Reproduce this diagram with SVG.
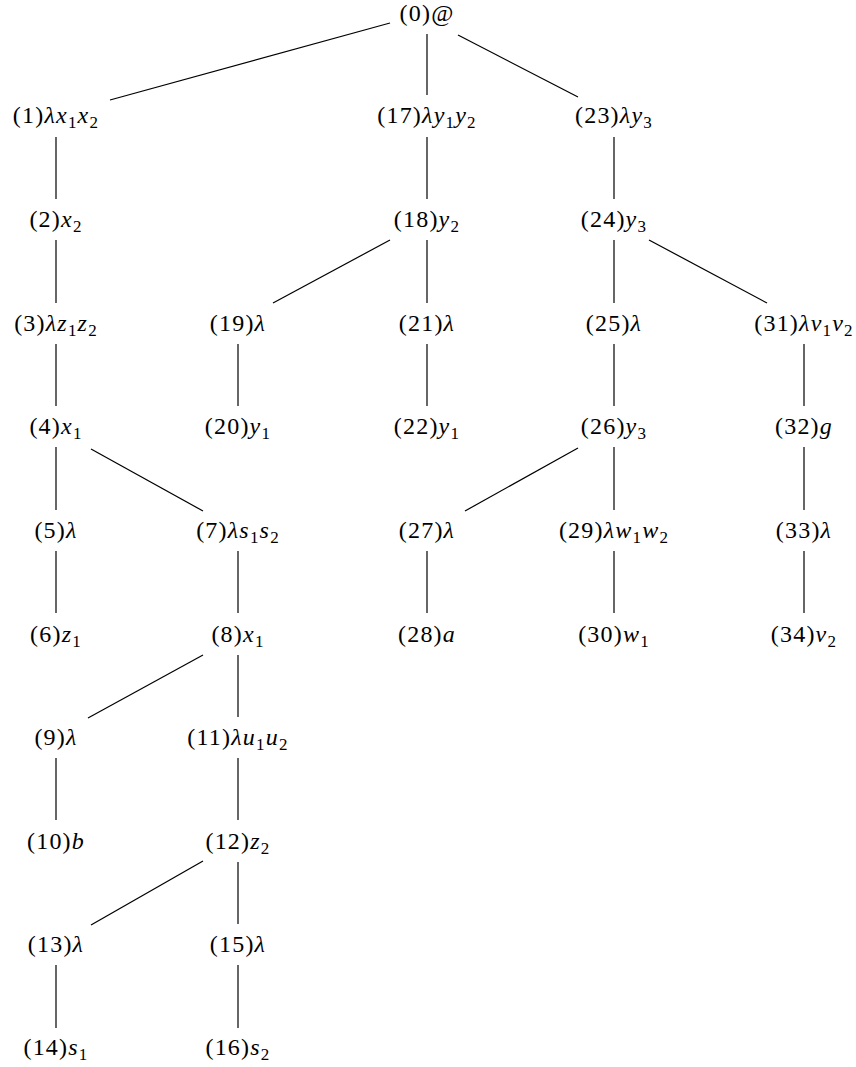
<svg xmlns="http://www.w3.org/2000/svg" width="856" height="1067" viewBox="0 0 856 1067">
<style>
.t{font-family:"Liberation Serif",serif;font-size:24px;fill:#000;text-anchor:middle;letter-spacing:1.2px}
.i{font-style:italic}
.s{font-size:17px}
#edges line{stroke:#000;stroke-width:1.2}
</style>
<rect width="856" height="1067" fill="#fff"/>
<g id="edges">
<line x1="390" y1="23" x2="110" y2="100"/>
<line x1="427" y1="34" x2="427" y2="95"/>
<line x1="458" y1="35" x2="578" y2="97"/>
<line x1="56" y1="137" x2="56" y2="199"/>
<line x1="56" y1="240" x2="56" y2="303"/>
<line x1="56" y1="344" x2="56" y2="406"/>
<line x1="56" y1="447" x2="56" y2="510"/>
<line x1="91" y1="449" x2="203" y2="511"/>
<line x1="56" y1="551" x2="56" y2="613"/>
<line x1="238" y1="551" x2="238" y2="613"/>
<line x1="203" y1="655" x2="88" y2="718"/>
<line x1="238" y1="655" x2="238" y2="717"/>
<line x1="56" y1="758" x2="56" y2="820"/>
<line x1="238" y1="758" x2="238" y2="820"/>
<line x1="203" y1="861" x2="91" y2="925"/>
<line x1="238" y1="862" x2="238" y2="924"/>
<line x1="56" y1="965" x2="56" y2="1028"/>
<line x1="238" y1="965" x2="238" y2="1028"/>
<line x1="427" y1="137" x2="427" y2="199"/>
<line x1="390" y1="240" x2="273" y2="303"/>
<line x1="427" y1="240" x2="427" y2="303"/>
<line x1="238" y1="344" x2="238" y2="406"/>
<line x1="427" y1="344" x2="427" y2="406"/>
<line x1="614" y1="137" x2="614" y2="199"/>
<line x1="614" y1="240" x2="614" y2="303"/>
<line x1="649" y1="240" x2="767" y2="303"/>
<line x1="614" y1="344" x2="614" y2="406"/>
<line x1="804" y1="344" x2="804" y2="406"/>
<line x1="578" y1="448" x2="465" y2="511"/>
<line x1="614" y1="447" x2="614" y2="510"/>
<line x1="427" y1="551" x2="427" y2="613"/>
<line x1="614" y1="551" x2="614" y2="613"/>
<line x1="804" y1="447" x2="804" y2="510"/>
<line x1="804" y1="551" x2="804" y2="613"/>
</g>
<g id="n0"><text class="t" x="427" y="21">(0)@</text></g>
<g id="n1"><text class="t" x="56" y="123">(1)<tspan class="i">λx</tspan><tspan class="s" dy="5">1</tspan><tspan class="i" dy="-5">x</tspan><tspan class="s" dy="5">2</tspan></text></g>
<g id="n2"><text class="t" x="56" y="227">(2)<tspan class="i">x</tspan><tspan class="s" dy="5">2</tspan></text></g>
<g id="n3"><text class="t" x="56" y="331">(3)<tspan class="i">λz</tspan><tspan class="s" dy="5">1</tspan><tspan class="i" dy="-5">z</tspan><tspan class="s" dy="5">2</tspan></text></g>
<g id="n4"><text class="t" x="56" y="434">(4)<tspan class="i">x</tspan><tspan class="s" dy="5">1</tspan></text></g>
<g id="n5"><text class="t" x="56" y="538">(5)<tspan class="i">λ</tspan></text></g>
<g id="n6"><text class="t" x="56" y="642">(6)<tspan class="i">z</tspan><tspan class="s" dy="5">1</tspan></text></g>
<g id="n7"><text class="t" x="238" y="538">(7)<tspan class="i">λs</tspan><tspan class="s" dy="5">1</tspan><tspan class="i" dy="-5">s</tspan><tspan class="s" dy="5">2</tspan></text></g>
<g id="n8"><text class="t" x="238" y="642">(8)<tspan class="i">x</tspan><tspan class="s" dy="5">1</tspan></text></g>
<g id="n9"><text class="t" x="56" y="745">(9)<tspan class="i">λ</tspan></text></g>
<g id="n10"><text class="t" x="56" y="849">(10)<tspan class="i">b</tspan></text></g>
<g id="n11"><text class="t" x="238" y="745">(11)<tspan class="i">λu</tspan><tspan class="s" dy="5">1</tspan><tspan class="i" dy="-5">u</tspan><tspan class="s" dy="5">2</tspan></text></g>
<g id="n12"><text class="t" x="238" y="849">(12)<tspan class="i">z</tspan><tspan class="s" dy="5">2</tspan></text></g>
<g id="n13"><text class="t" x="56" y="952">(13)<tspan class="i">λ</tspan></text></g>
<g id="n14"><text class="t" x="56" y="1055">(14)<tspan class="i">s</tspan><tspan class="s" dy="5">1</tspan></text></g>
<g id="n15"><text class="t" x="238" y="952">(15)<tspan class="i">λ</tspan></text></g>
<g id="n16"><text class="t" x="238" y="1055">(16)<tspan class="i">s</tspan><tspan class="s" dy="5">2</tspan></text></g>
<g id="n17"><text class="t" x="427" y="123">(17)<tspan class="i">λy</tspan><tspan class="s" dy="5">1</tspan><tspan class="i" dy="-5">y</tspan><tspan class="s" dy="5">2</tspan></text></g>
<g id="n18"><text class="t" x="427" y="227">(18)<tspan class="i">y</tspan><tspan class="s" dy="5">2</tspan></text></g>
<g id="n19"><text class="t" x="238" y="331">(19)<tspan class="i">λ</tspan></text></g>
<g id="n20"><text class="t" x="238" y="434">(20)<tspan class="i">y</tspan><tspan class="s" dy="5">1</tspan></text></g>
<g id="n21"><text class="t" x="427" y="331">(21)<tspan class="i">λ</tspan></text></g>
<g id="n22"><text class="t" x="427" y="434">(22)<tspan class="i">y</tspan><tspan class="s" dy="5">1</tspan></text></g>
<g id="n23"><text class="t" x="614" y="123">(23)<tspan class="i">λy</tspan><tspan class="s" dy="5">3</tspan></text></g>
<g id="n24"><text class="t" x="614" y="227">(24)<tspan class="i">y</tspan><tspan class="s" dy="5">3</tspan></text></g>
<g id="n25"><text class="t" x="614" y="331">(25)<tspan class="i">λ</tspan></text></g>
<g id="n26"><text class="t" x="614" y="434">(26)<tspan class="i">y</tspan><tspan class="s" dy="5">3</tspan></text></g>
<g id="n27"><text class="t" x="427" y="538">(27)<tspan class="i">λ</tspan></text></g>
<g id="n28"><text class="t" x="427" y="642">(28)<tspan class="i">a</tspan></text></g>
<g id="n29"><text class="t" x="614" y="538">(29)<tspan class="i">λw</tspan><tspan class="s" dy="5">1</tspan><tspan class="i" dy="-5">w</tspan><tspan class="s" dy="5">2</tspan></text></g>
<g id="n30"><text class="t" x="614" y="642">(30)<tspan class="i">w</tspan><tspan class="s" dy="5">1</tspan></text></g>
<g id="n31"><text class="t" x="804" y="331">(31)<tspan class="i">λv</tspan><tspan class="s" dy="5">1</tspan><tspan class="i" dy="-5">v</tspan><tspan class="s" dy="5">2</tspan></text></g>
<g id="n32"><text class="t" x="804" y="434">(32)<tspan class="i">g</tspan></text></g>
<g id="n33"><text class="t" x="804" y="538">(33)<tspan class="i">λ</tspan></text></g>
<g id="n34"><text class="t" x="804" y="642">(34)<tspan class="i">v</tspan><tspan class="s" dy="5">2</tspan></text></g>
</svg>
